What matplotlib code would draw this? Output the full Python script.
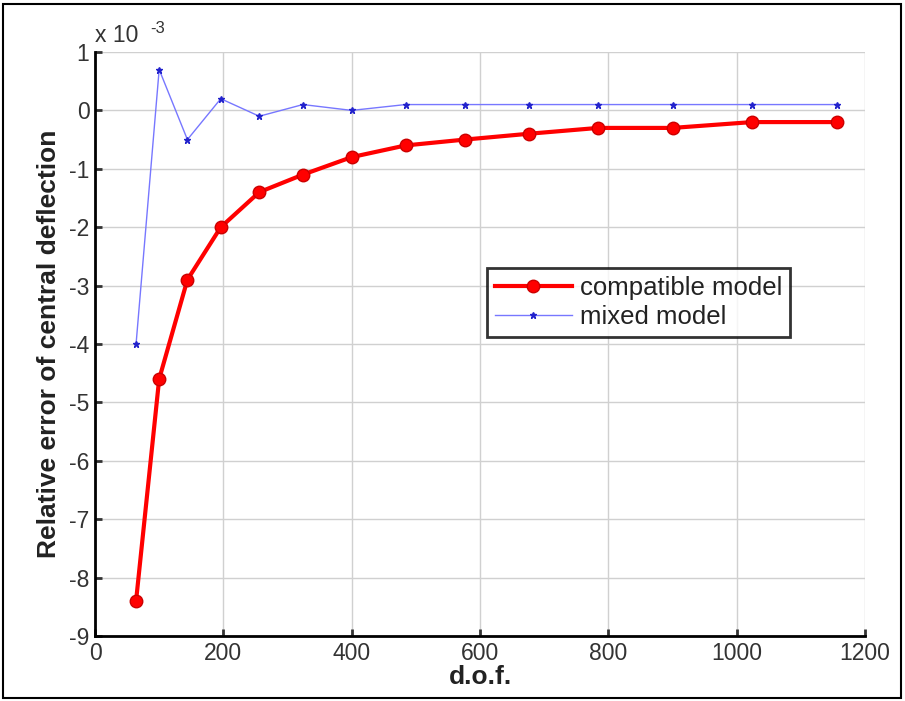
import numpy as np
import matplotlib.pyplot as plt
from matplotlib.patches import Rectangle

plt.rcParams['font.family'] = ['Liberation Sans', 'DejaVu Sans']
plt.rcParams['axes.unicode_minus'] = False

# d.o.f. values (8^2 ... 34^2)
dof = [64, 100, 144, 196, 256, 324, 400, 484, 576, 676, 784, 900, 1024, 1156]
# relative error, in units of 1e-3
compatible = [-8.4, -4.6, -2.9, -2.0, -1.4, -1.1, -0.8, -0.6, -0.5, -0.4, -0.3, -0.3, -0.2, -0.2]
mixed = [-4.0, 0.7, -0.5, 0.2, -0.1, 0.1, 0.0, 0.1, 0.1, 0.1, 0.1, 0.1, 0.1, 0.1]

fig = plt.figure(figsize=(9.05, 7.01), dpi=100)
ax = fig.add_axes([95/905, 1-636/701, 770/905, 584/701])

ax.plot(dof, compatible, color='red', lw=3, marker='o', ms=9,
        mfc='red', mec='#cc0000', label='compatible model')
ax.plot(dof, mixed, color='#7777ff', lw=1, marker='*', ms=5,
        mfc='#2222cc', mec='#2222cc', label='mixed model')

ax.set_xlim(0, 1200)
ax.set_ylim(-9, 1)
ax.set_xticks(np.arange(0, 1201, 200))
ax.set_yticks(np.arange(-9, 2, 1))
ax.grid(True, color='#d0d0d0', lw=1)
ax.set_axisbelow(True)
for s in ['top', 'right']:
    ax.spines[s].set_visible(False)
for s in ['left', 'bottom']:
    ax.spines[s].set_linewidth(2)
ax.tick_params(labelsize=16.5, width=2, length=5, direction='in', colors='#333333',
               labelcolor='#333333', pad=4)

ax.set_xlabel('d.o.f.', fontsize=19, fontweight='bold', labelpad=0, color='#222222')
ax.set_ylabel('Relative error of central deflection', fontsize=19, fontweight='bold',
              labelpad=6, color='#222222')
ax.text(0, 1.08, 'x 10', fontsize=16.5, color='#333333', ha='left', va='bottom')
ax.text(86, 1.27, '-3', fontsize=12, color='#333333', ha='left', va='bottom')

leg = ax.legend(loc='upper left', bbox_to_anchor=(392/770, (636-268)/584),
                fontsize=18.5, frameon=True, fancybox=False, borderpad=0.3,
                handlelength=3.0, handletextpad=0.3, labelspacing=0.2,
                borderaxespad=0)
leg.get_frame().set_edgecolor('black')
leg.get_frame().set_linewidth(2)
for t in leg.get_texts():
    t.set_color('#222222')

fig.patches.append(Rectangle((3/905, 3/701), 898/905, 694/701, transform=fig.transFigure,
                             fill=False, ec='black', lw=1.5))

plt.savefig('out.png', dpi=100)
